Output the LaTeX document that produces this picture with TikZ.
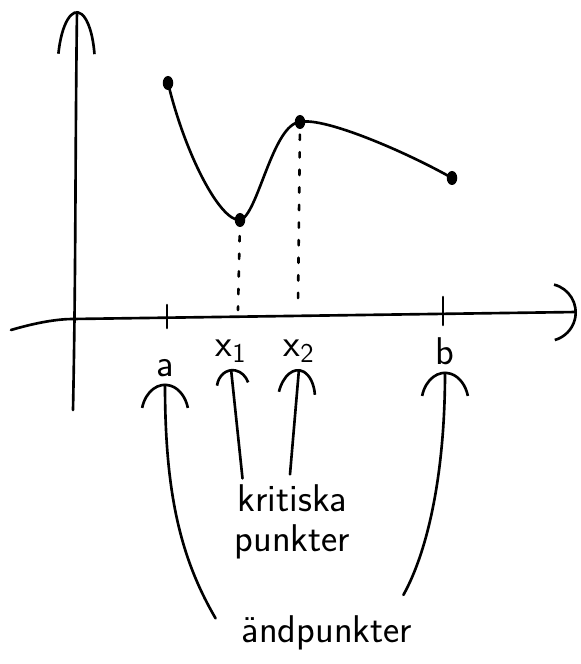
\documentclass[tikz,border=0pt]{standalone}
\usetikzlibrary{arrows.meta, calc, shapes.geometric}

\begin{document}
\begin{tikzpicture}[
  pen/.style={line width=1.5pt, line cap=round, line join=round},
  pil/.style={pen, -{Arc Barb[arc=150, length=0.65cm, width=1.0cm]}},
  dot/.style={ellipse, fill, inner sep=0pt, minimum width=0.21cm, minimum height=0.28cm},
  lbl/.style={font=\sffamily\fontsize{22}{23}\selectfont},
  txt/.style={lbl, align=center},
]
  \useasboundingbox (0,0) rectangle (11.6,13.28);

  \draw[pen, -{Arc Barb[arc=150, length=1.15cm, width=0.8cm]}] (1.46,5.08) .. controls (1.52,8) and (1.50,10) .. (1.54,13.06);
  \draw[pen, -{Arc Barb[arc=150, length=0.6cm, width=1.2cm]}] (0.22,6.68) .. controls (0.8,6.85) and (1.2,6.9) .. (1.46,6.90) -- (11.54,7.04);
  \draw[pen] (3.34,6.72) -- (3.34,7.18);
  \draw[pen] (8.86,6.78) -- (8.86,7.34);

  \node[dot] (pa) at (3.36,11.62) {};
  \node[dot] (pmin) at (4.80,8.88) {};
  \node[dot] (pmax) at (6.00,10.84) {};
  \node[dot] (pb) at (9.04,9.72) {};
  \draw[pen] (pa.center) .. controls (3.7,10.2) and (4.4,8.85) .. (pmin.center)
    .. controls (5.15,8.95) and (5.45,10.8) .. (pmax.center)
    .. controls (6.5,10.95) and (8.2,10.2) .. (pb.center);

  \coordinate (fx1) at (4.76,7.08);
  \coordinate (fx2) at (5.96,7.18);
  \draw[pen, dash pattern=on 3pt off 7pt, shorten <=5pt] (pmin) -- (fx1);
  \draw[pen, dash pattern=on 3pt off 7pt, shorten <=3pt] (pmax) -- (fx2);

  \node[lbl, anchor=base] (la) at (3.30,5.74) {a};
  \node[lbl, anchor=base] (lx1) at (4.62,6.14) {x\textsubscript{1}};
  \node[lbl, anchor=base] (lx2) at (5.98,6.14) {x\textsubscript{2}};
  \node[lbl, anchor=base] (lb) at (8.90,5.98) {b};

  \node[txt] (krit) at (5.85,2.84) {kritiska\\punkter};
  \node[lbl, anchor=base] (endp) at (6.54,0.42) {ändpunkter};

  \draw[pen, -{Arc Barb[arc=150, length=0.4cm, width=0.7cm]}] ($(krit.north)+(-1.0,0)$) -- (lx1.south);
  \draw[pen, -{Arc Barb[arc=150, length=0.65cm, width=0.8cm]}] ($(krit.north)+(-0.05,0.08)$) -- (lx2.south);
  \draw[pil] ($(endp.west)+(-0.4,0.3)$) .. controls +(-0.7,1.2) and +(0,-2.2) .. (la.south);
  \draw[pil] ($(endp.north east)+(-0.3,0.3)$) .. controls +(0.5,0.9) and +(0,-2.0) .. (lb.south);
\end{tikzpicture}
\end{document}
